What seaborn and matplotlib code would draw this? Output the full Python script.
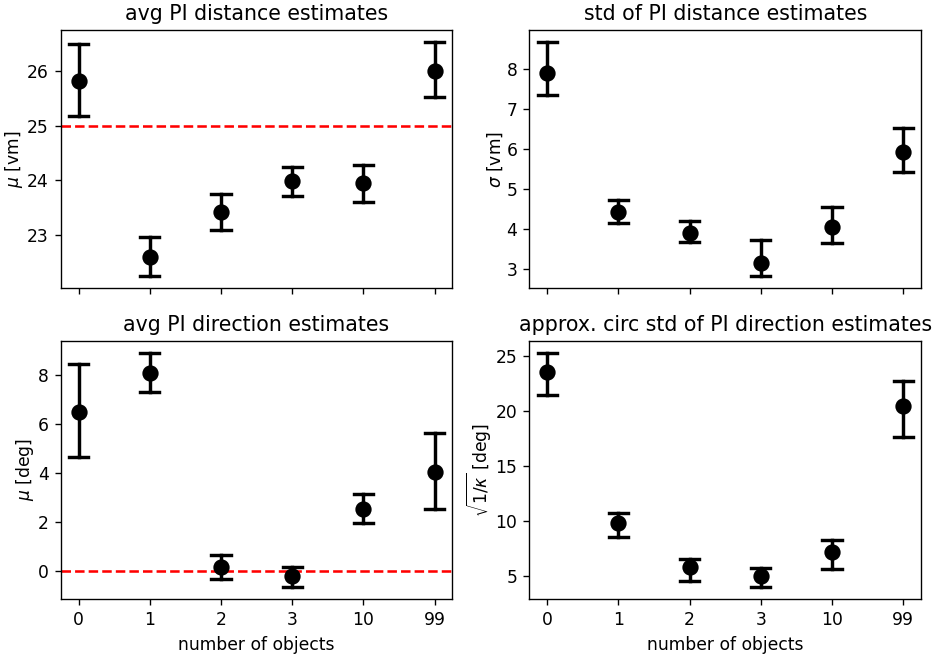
import pandas as pd
import matplotlib
matplotlib.use("Agg")
import matplotlib.pyplot as plt
import seaborn as sns

# number of objects (categorical)
objects = ["0", "1", "2", "3", "10", "99"]

# avg PI distance estimates
dist_mu = [25.83, 22.59, 23.42, 23.99, 23.95, 26.01]
dist_mu_lo = [25.18, 22.24, 23.09, 23.71, 23.61, 25.53]
dist_mu_hi = [26.50, 22.96, 23.75, 24.24, 24.29, 26.54]

# std of PI distance estimates
dist_sd = [7.90, 4.41, 3.89, 3.14, 4.04, 5.93]
dist_sd_lo = [7.36, 4.14, 3.67, 2.81, 3.65, 5.42]
dist_sd_hi = [8.68, 4.72, 4.19, 3.73, 4.55, 6.53]

# avg PI direction estimates
dir_mu = [6.49, 8.08, 0.16, -0.22, 2.52, 4.03]
dir_mu_lo = [4.63, 7.28, -0.34, -0.68, 1.96, 2.53]
dir_mu_hi = [8.46, 8.90, 0.63, 0.15, 3.13, 5.62]

# approx. circ std of PI direction estimates
dir_sd = [23.58, 9.85, 5.79, 4.97, 7.21, 20.45]
dir_sd_lo = [21.52, 8.55, 4.55, 3.97, 5.67, 17.64]
dir_sd_hi = [25.33, 10.76, 6.58, 5.73, 8.24, 22.76]


def long_table(center, lo, hi):
    # three rows per category: median = center, min/max = error bar ends
    rows = []
    for k, c, l, h in zip(objects, center, lo, hi):
        for v in (l, c, h):
            rows.append({"objects": k, "value": v})
    return pd.DataFrame(rows)


panels = [
    (dist_mu, dist_mu_lo, dist_mu_hi, "avg PI distance estimates", r"$\mu$ [vm]", 25),
    (dist_sd, dist_sd_lo, dist_sd_hi, "std of PI distance estimates", r"$\sigma$ [vm]", None),
    (dir_mu, dir_mu_lo, dir_mu_hi, "avg PI direction estimates", r"$\mu$ [deg]", 0),
    (dir_sd, dir_sd_lo, dir_sd_hi, "approx. circ std of PI direction estimates",
     r"$\sqrt{1/\kappa}$ [deg]", None),
]

fig, axes = plt.subplots(2, 2, figsize=(935 / 123, 655 / 123), dpi=123, sharex=True)

for ax, (c, lo, hi, title, ylab, ref) in zip(axes.flat, panels):
    df = long_table(c, lo, hi)
    sns.pointplot(data=df, x="objects", y="value", order=objects,
                  estimator="median", errorbar=("pi", 100),
                  color="black", linestyle="none", marker="o", markersize=7.5,
                  capsize=0.27, err_kws={"linewidth": 2}, ax=ax)
    if ref is not None:
        ax.axhline(ref, color="red", linestyle="--", linewidth=1.5, zorder=1)
    ax.set_title(title)
    ax.set_ylabel(ylab, labelpad=1)
    ax.set_xlim(-0.25, 5.25)

for ax in axes[0]:
    ax.set_xlabel("")
for ax in axes[1]:
    ax.set_xlabel("number of objects")

plt.subplots_adjust(left=0.065, right=0.985, top=0.954, bottom=0.0855,
                    wspace=0.197, hspace=0.205)
plt.savefig("out.png", dpi=123)
